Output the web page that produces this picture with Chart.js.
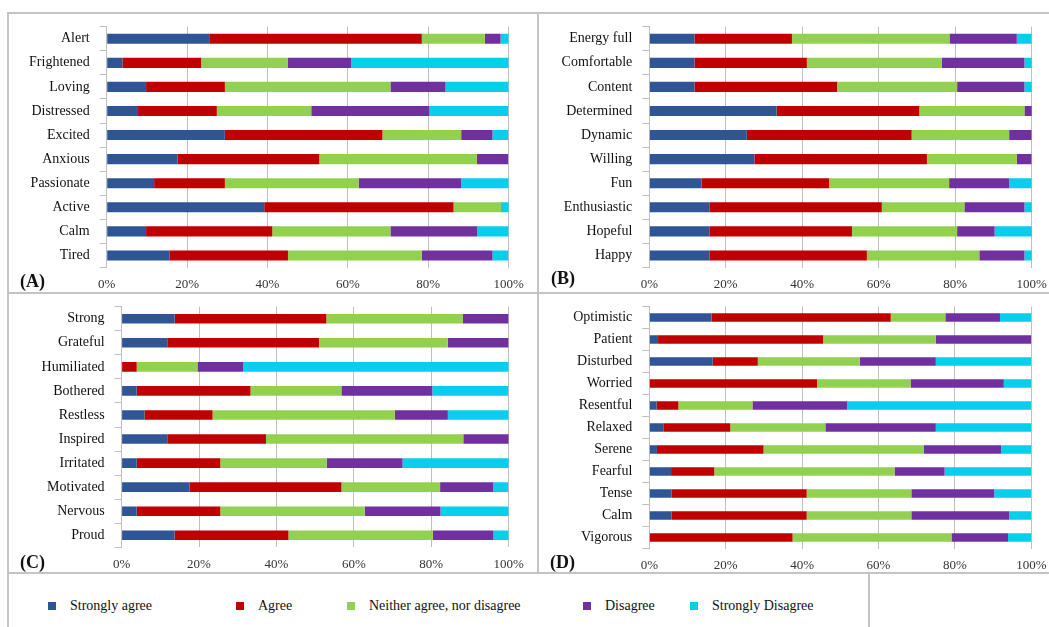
<!DOCTYPE html>
<html>
<head>
<meta charset="utf-8">
<script src="https://cdn.jsdelivr.net/npm/chart.js@4.4.1/dist/chart.umd.min.js"></script>
<style>
  html, body { margin: 0; padding: 0; background: #fff; }
  #page { position: relative; width: 1049px; height: 627px; overflow: hidden; font-family: 'Liberation Serif', 'Times New Roman', serif; }
  .rule { position: absolute; background: #c4c4c4; }
  canvas { position: absolute; }
  .tag { position: absolute; font-weight: bold; font-size: 18px; line-height: 20px; color: #111; }
  .leg { position: absolute; top: 597px; font-size: 14px; line-height: 18px; color: #111; white-space: nowrap; }
  .leg i { position: absolute; width: 8px; height: 8px; top: 5px; }
</style>
</head>
<body>
<div id="page">
  <div class="rule" style="left:8px;top:12px;width:1041px;height:2px"></div>
  <div class="rule" style="left:7px;top:12px;width:2px;height:615px"></div>
  <div class="rule" style="left:537px;top:12px;width:2px;height:562px"></div>
  <div class="rule" style="left:8px;top:292px;width:1041px;height:2px"></div>
  <div class="rule" style="left:8px;top:572px;width:1041px;height:2px"></div>
  <div class="rule" style="left:868px;top:572px;width:2px;height:55px"></div>

  <canvas id="chartA" width="528" height="278" style="left:9px;top:14px"></canvas>
  <canvas id="chartB" width="510" height="278" style="left:539px;top:14px"></canvas>
  <canvas id="chartC" width="528" height="278" style="left:9px;top:294px"></canvas>
  <canvas id="chartD" width="510" height="278" style="left:539px;top:294px"></canvas>

  <div class="tag" style="left:20px;top:271px">(A)</div>
  <div class="tag" style="left:551px;top:268px">(B)</div>
  <div class="tag" style="left:20px;top:552px">(C)</div>
  <div class="tag" style="left:550px;top:552px">(D)</div>

  <div id="legend"></div>
</div>

<script>
// series (response scale)
const seriesNames = ['Strongly agree', 'Agree', 'Neither agree, nor disagree', 'Disagree', 'Strongly Disagree'];

// panel A
const labelsA = ['Alert', 'Frightened', 'Loving', 'Distressed', 'Excited', 'Anxious', 'Passionate', 'Active', 'Calm', 'Tired'];
const strongAgreeA = [25.5, 3.9, 9.8, 7.8, 29.4, 17.6, 11.8, 39.2, 9.8, 15.7];
const agreeA = [52.9, 19.6, 19.6, 19.6, 39.2, 35.3, 17.6, 47.1, 31.4, 29.4];
const neitherA = [15.7, 21.6, 41.2, 23.5, 19.6, 39.2, 33.3, 11.8, 29.4, 33.3];
const disagreeA = [3.9, 15.7, 13.7, 29.4, 7.8, 7.8, 25.5, 0, 21.6, 17.6];
const strongDisagreeA = [2.0, 39.2, 15.7, 19.6, 3.9, 0, 11.8, 2.0, 7.8, 3.9];

// panel B
const labelsB = ['Energy full', 'Comfortable', 'Content', 'Determined', 'Dynamic', 'Willing', 'Fun', 'Enthusiastic', 'Hopeful', 'Happy'];
const strongAgreeB = [11.8, 11.8, 11.8, 33.3, 25.5, 27.5, 13.7, 15.7, 15.7, 15.7];
const agreeB = [25.5, 29.4, 37.3, 37.3, 43.1, 45.1, 33.3, 45.1, 37.3, 41.2];
const neitherB = [41.2, 35.3, 31.4, 27.5, 25.5, 23.5, 31.4, 21.6, 27.5, 29.4];
const disagreeB = [17.6, 21.6, 17.6, 2.0, 5.9, 3.9, 15.7, 15.7, 9.8, 11.8];
const strongDisagreeB = [3.9, 2.0, 2.0, 0, 0, 0, 5.9, 2.0, 9.8, 2.0];

// panel C
const labelsC = ['Strong', 'Grateful', 'Humiliated', 'Bothered', 'Restless', 'Inspired', 'Irritated', 'Motivated', 'Nervous', 'Proud'];
const strongAgreeC = [13.7, 11.8, 0, 3.9, 5.9, 11.8, 3.9, 17.6, 3.9, 13.7];
const agreeC = [39.2, 39.2, 3.9, 29.4, 17.6, 25.5, 21.6, 39.2, 21.6, 29.4];
const neitherC = [35.3, 33.3, 15.7, 23.5, 47.1, 51.0, 27.5, 25.5, 37.3, 37.3];
const disagreeC = [11.8, 15.7, 11.8, 23.5, 13.7, 11.8, 19.6, 13.7, 19.6, 15.7];
const strongDisagreeC = [0, 0, 68.6, 19.6, 15.7, 0, 27.5, 3.9, 17.6, 3.9];

// panel D
const labelsD = ['Optimistic', 'Patient', 'Disturbed', 'Worried', 'Resentful', 'Relaxed', 'Serene', 'Fearful', 'Tense', 'Calm', 'Vigorous'];
const strongAgreeD = [16.3, 2.3, 16.6, 0, 1.9, 3.8, 2.0, 5.7, 5.8, 5.8, 0];
const agreeD = [46.9, 43.2, 11.8, 43.9, 5.7, 17.4, 27.9, 11.3, 35.4, 35.4, 37.5];
const neitherD = [14.3, 29.5, 26.7, 24.5, 19.4, 24.9, 42.0, 47.2, 27.4, 27.4, 41.6];
const disagreeD = [14.3, 25.0, 19.9, 24.4, 24.8, 28.9, 20.2, 13.1, 21.7, 25.6, 14.8];
const strongDisagreeD = [8.2, 0, 25.0, 7.2, 48.2, 25.0, 7.9, 22.7, 9.7, 5.8, 6.1];

// x axis ticks
const tickValues = [0, 20, 40, 60, 80, 100];

// styling
const seriesColors = ['#2f5597', '#c00000', '#92d050', '#7030a0', '#05cfea'];
const gridColor = '#bfbfbf';
const serif = "'Liberation Serif', 'Times New Roman', serif";

function makePanel(canvasId, labels, series, box) {
  const canvas = document.getElementById(canvasId);
  return new Chart(canvas, {
    type: 'bar',
    data: {
      labels: labels,
      datasets: series.map((values, i) => ({
        label: seriesNames[i],
        data: values,
        backgroundColor: seriesColors[i],
        borderWidth: 0,
        barPercentage: box.bar,
        categoryPercentage: 1,
      })),
    },
    options: {
      indexAxis: 'y',
      responsive: false,
      animation: false,
      layout: { padding: { top: box.top, right: box.right, bottom: 0, left: 0 } },
      plugins: { legend: { display: false }, tooltip: { enabled: false } },
      scales: {
        x: {
          stacked: true,
          min: 0,
          max: 100,
          afterBuildTicks: (s) => { s.ticks = tickValues.map(v => ({ value: v })); },
          ticks: { callback: v => v + '%', font: { family: serif, size: 13 }, color: '#333', padding: 9, maxRotation: 0 },
          grid: { color: gridColor, drawTicks: false },
          border: { display: false },
          afterFit: (s) => { s.height = box.axisH; s.paddingLeft = 0; s.paddingRight = 0; },
        },
        y: {
          stacked: true,
          ticks: { font: { family: serif, size: 14 }, color: '#111', padding: 10, autoSkip: false },
          grid: { drawOnChartArea: false, color: gridColor, tickLength: 7, offset: true },
          border: { color: gridColor },
          afterFit: (s) => { s.width = box.left; s.paddingTop = 0; s.paddingBottom = 0; },
        },
      },
    },
  });
}

makePanel('chartA', labelsA, [strongAgreeA, agreeA, neitherA, disagreeA, strongDisagreeA],
  { left: 97.7, right: 28.4, top: 12.7, axisH: 24.5, bar: 0.42 });
makePanel('chartB', labelsB, [strongAgreeB, agreeB, neitherB, disagreeB, strongDisagreeB],
  { left: 110.3, right: 17.3, top: 12.7, axisH: 24.5, bar: 0.42 });
makePanel('chartC', labelsC, [strongAgreeC, agreeC, neitherC, disagreeC, strongDisagreeC],
  { left: 112.6, right: 28.4, top: 12.7, axisH: 24.7, bar: 0.40 });
makePanel('chartD', labelsD, [strongAgreeD, agreeD, neitherD, disagreeD, strongDisagreeD],
  { left: 110.3, right: 17.7, top: 12.5, axisH: 23.5, bar: 0.38 });

// shared legend under the four panels
const legendX = [48, 236, 347, 583, 690];
const legend = document.getElementById('legend');
seriesNames.forEach((name, i) => {
  const item = document.createElement('div');
  item.className = 'leg';
  item.style.left = legendX[i] + 'px';
  item.style.paddingLeft = '22px';
  item.innerHTML = '<i style="left:0;background:' + seriesColors[i] + '"></i>' + name;
  legend.appendChild(item);
});
</script>
</body>
</html>
